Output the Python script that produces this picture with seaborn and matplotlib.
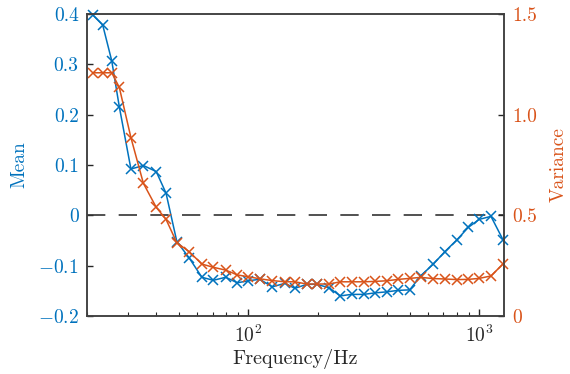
import numpy as np
import pandas as pd
import seaborn as sns
import matplotlib.pyplot as plt

# frequency points (Hz)
freq = [21.2, 23.4, 25.6, 27.6, 31.0, 35.1, 39.9, 44.0, 49.0, 55.5,
        62.9, 70.5, 79.8, 89.6, 100, 112, 127, 144, 159, 179,
        198, 224, 250, 280, 316, 354, 397, 446, 500, 558,
        632, 710, 799, 896, 1000, 1124, 1266]

mean_vals = [0.398, 0.378, 0.307, 0.216, 0.092, 0.099, 0.087, 0.044, -0.052, -0.085,
             -0.123, -0.129, -0.123, -0.134, -0.130, -0.127, -0.142, -0.135, -0.145, -0.137,
             -0.137, -0.144, -0.160, -0.157, -0.157, -0.154, -0.152, -0.149, -0.148, -0.120,
             -0.097, -0.072, -0.049, -0.024, -0.008, -0.002, -0.048]

var_vals = [1.208, 1.208, 1.208, 1.136, 0.886, 0.659, 0.540, 0.480, 0.364, 0.319,
            0.258, 0.242, 0.228, 0.204, 0.195, 0.185, 0.176, 0.170, 0.170, 0.159,
            0.159, 0.159, 0.170, 0.170, 0.170, 0.172, 0.175, 0.182, 0.187, 0.192,
            0.186, 0.184, 0.181, 0.182, 0.187, 0.199, 0.258]

mean_ticks = [-0.2, -0.1, 0, 0.1, 0.2, 0.3, 0.4]
mean_ticklabels = ['$-0.2$', '$-0.1$', '0', '0.1', '0.2', '0.3', '0.4']
var_ticks = [0, 0.5, 1.0, 1.5]
var_ticklabels = ['0', '0.5', '1.0', '1.5']

blue = '#0072BD'
orange = '#D95319'

df = pd.DataFrame({'freq': freq, 'mean': mean_vals, 'var': var_vals})

sns.set_style('ticks')
plt.rcParams['font.family'] = ['cmr10', 'DejaVu Serif']
plt.rcParams['mathtext.fontset'] = 'cm'
plt.rcParams['axes.formatter.use_mathtext'] = True
plt.rcParams['axes.unicode_minus'] = False

fig = plt.figure(figsize=(5.7, 3.74), dpi=100)
ax = fig.add_axes([0.1526, 0.155, 0.7316, 0.8076])
ax2 = ax.twinx()

# 평균 (왼쪽 축)
sns.lineplot(data=df, x='freq', y='mean', ax=ax, color=blue, marker='x',
             markersize=7, markeredgewidth=1.1, markeredgecolor=blue,
             linewidth=1.1, clip_on=False)
ax.axhline(0, color='#333333', linewidth=1.2, linestyle=(0, (11, 8)), zorder=1)

# 분산 (오른쪽 축)
sns.lineplot(data=df, x='freq', y='var', ax=ax2, color=orange, marker='x',
             markersize=7, markeredgewidth=1.1, markeredgecolor=orange,
             linewidth=1.1, clip_on=False)

ax.set_xscale('log')
ax.set_xlim(20, 1280)
ax.set_ylim(-0.2, 0.4)
ax2.set_ylim(0, 1.5)

ax.set_yticks(mean_ticks)
ax.set_yticklabels(mean_ticklabels)
ax2.set_yticks(var_ticks)
ax2.set_yticklabels(var_ticklabels)

ax.set_xlabel('Frequency/Hz', fontsize=14.5, labelpad=2)
ax.set_ylabel('Mean', fontsize=14, color=blue, labelpad=7)
ax2.set_ylabel('Variance', fontsize=14, color=orange, labelpad=9)

ax.tick_params(axis='y', direction='in', length=4, width=1, color='#262626',
               labelcolor=blue, labelsize=14, pad=6)
ax.tick_params(axis='x', which='major', direction='in', length=5, width=1,
               labelsize=14, pad=6)
ax.tick_params(axis='x', which='minor', direction='in', length=3, width=0.8)
ax2.tick_params(axis='y', direction='in', length=4, width=1, color='#262626',
                labelcolor=orange, labelsize=14, pad=6)

for a in (ax, ax2):
    for s in a.spines.values():
        s.set_color('#404040')
        s.set_linewidth(1.1)
    a.spines['top'].set_visible(True)
    a.spines['right'].set_visible(True)

fig.savefig('out.png', dpi=100)
